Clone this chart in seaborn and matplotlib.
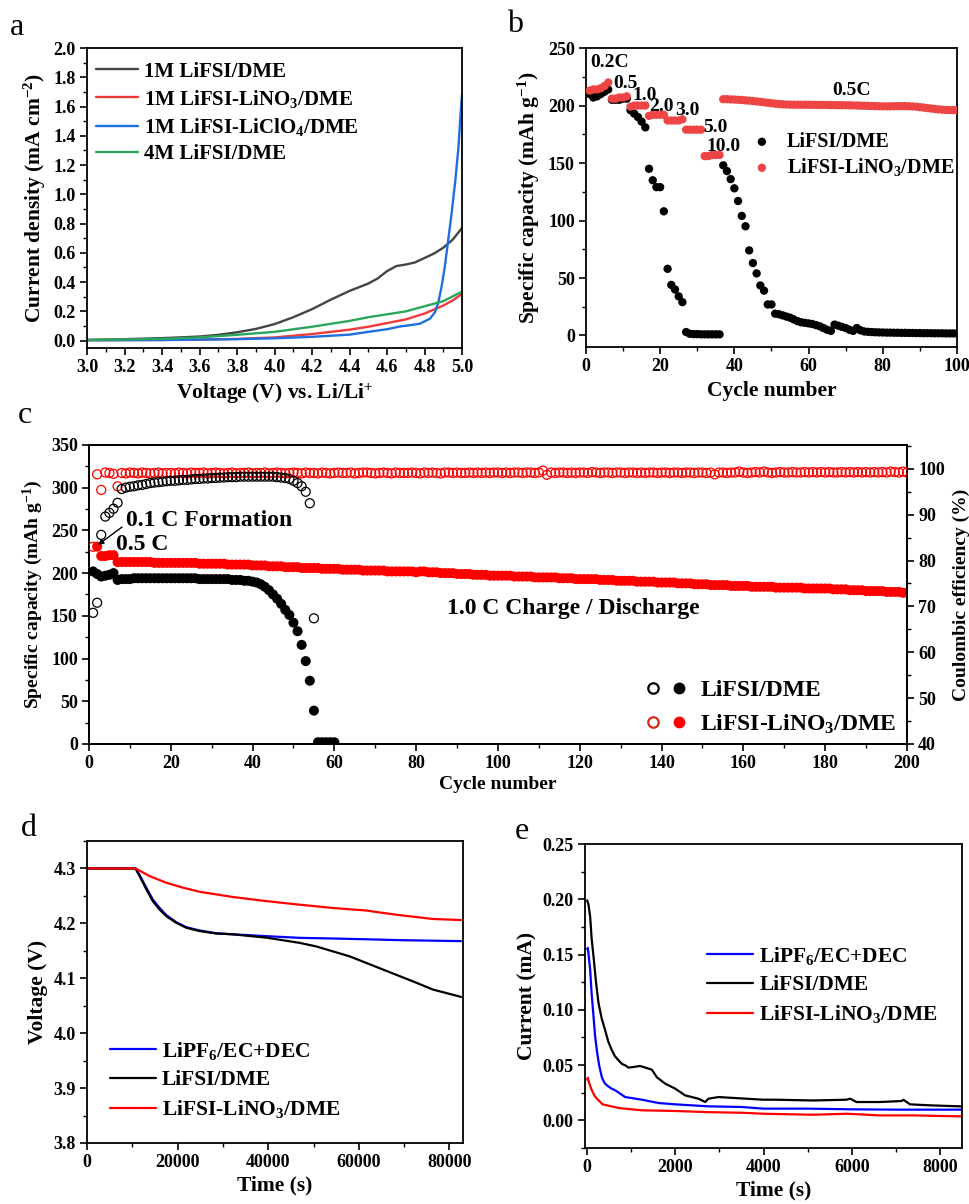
import numpy as np
import matplotlib
matplotlib.use("Agg")
import matplotlib.pyplot as plt
import seaborn as sns
from matplotlib.ticker import MultipleLocator
from matplotlib.legend_handler import HandlerTuple
from matplotlib.lines import Line2D

# ---------------------------------------------------------------- data
# (a) linear sweep voltammetry
v_lifsi = [3.0, 3.2, 3.4, 3.6, 3.7, 3.8, 3.9, 4.0, 4.1, 4.2, 4.3, 4.4, 4.5, 4.55,
           4.6, 4.65, 4.7, 4.75, 4.8, 4.85, 4.9, 4.95, 5.0]
j_lifsi = [0.005, 0.01, 0.017, 0.028, 0.04, 0.057, 0.08, 0.113, 0.16, 0.215, 0.28,
           0.34, 0.39, 0.425, 0.475, 0.51, 0.52, 0.535, 0.565, 0.595, 0.635, 0.69, 0.77]
v_lino3 = [3.0, 3.4, 3.6, 3.8, 4.0, 4.2, 4.4, 4.5, 4.6, 4.7, 4.8, 4.9, 4.95, 5.0]
j_lino3 = [0.003, 0.005, 0.007, 0.012, 0.022, 0.045, 0.075, 0.095, 0.12, 0.145,
           0.185, 0.24, 0.275, 0.32]
v_clo4 = [3.0, 3.4, 3.8, 4.0, 4.2, 4.4, 4.5, 4.6, 4.67, 4.72, 4.776, 4.829, 4.856,
          4.874, 4.892, 4.909, 4.927, 4.945, 4.963, 4.98, 4.995, 5.0]
j_clo4 = [0.003, 0.004, 0.01, 0.016, 0.026, 0.041, 0.06, 0.078, 0.097, 0.105, 0.116,
          0.15, 0.195, 0.263, 0.376, 0.512, 0.694, 0.875, 1.08, 1.306, 1.6, 1.68]
v_4m = [3.0, 3.2, 3.4, 3.6, 3.8, 4.0, 4.2, 4.4, 4.5, 4.6, 4.7, 4.8, 4.9, 5.0]
j_4m = [0.005, 0.008, 0.012, 0.022, 0.04, 0.06, 0.095, 0.135, 0.16, 0.18, 0.2,
        0.235, 0.27, 0.335]

# (b) rate capability
cyc_b = list(range(1, 101))
cap_b_lifsi = [210, 207, 208, 210, 212, 214,
               205, 205, 205, 206, 206,
               196, 193, 190, 186, 181,
               145, 135, 129, 129, 108, 58, 44, 40, 34, 29, 3,
               1.5, 1.2, 1.2, 1.0, 1.0, 1.0, 1.0, 1.0, 1.0,
               148, 143, 136, 128, 117, 104, 95, 74, 63, 54, 43.5, 39, 27, 27, 19,
               18.5, 17.5, 16.5, 15.5, 14, 12.5, 11.5, 11, 10.5, 10, 9, 8, 6.5, 5, 4,
               9.5, 8.5, 7.5, 6.5, 5, 4, 6.5, 4.5, 3.5, 3.2, 3.0, 2.8, 2.7, 2.6,
               2.5, 2.5, 2.4, 2.4, 2.3, 2.3, 2.2, 2.2, 2.1, 2.1, 2.0, 2.0, 2.0, 1.9,
               1.9, 1.9, 1.8, 1.8, 1.8, 1.8]
cap_b_lino3 = [213, 214, 214, 215, 217, 220,
               206, 206, 207, 207, 208,
               199, 200, 200, 200, 200,
               191, 192, 192, 192, 192,
               187, 187, 187, 187, 188,
               179, 179, 179, 179, 179,
               156, 156, 157, 157, 157,
               205.5, 205.5, 205.3, 205.2, 205.0, 204.8, 204.5, 204.2, 204.0, 203.6,
               203.2, 202.8, 202.4, 202.0, 201.6, 201.3, 201.1, 200.9, 200.8, 200.7,
               200.7, 200.7, 200.7, 200.7, 200.6, 200.6, 200.5, 200.5, 200.5, 200.4,
               200.4, 200.3, 200.3, 200.2, 200.2, 200.1, 200.0, 199.9, 199.8, 199.7,
               199.6, 199.5, 199.4, 199.3, 199.3, 199.3, 199.4, 199.5, 199.5, 199.5,
               199.4, 199.2, 199.0, 198.6, 198.2, 197.8, 197.4, 197.0, 196.6, 196.4,
               196.2, 196.1, 196.0, 195.9]
rate_labels = ["0.2C", "0.5", "1.0", "2.0", "3.0", "5.0", "10.0", "0.5C"]
rate_label_x = [1.1, 7.3, 12.4, 17.0, 24.0, 31.5, 32.6, 66.3]
rate_label_y = [237, 219, 209, 199, 196, 181, 164, 213]

# (c) long-term cycling: capacity (left axis) and coulombic efficiency (right axis)
cyc_c_lifsi = list(range(1, 61))
cap_c_lifsi = [202, 199, 196, 197, 198, 200,
               192, 193, 193, 193,
               194, 194, 194, 194, 194, 194, 194, 194, 194, 194,
               194, 194, 194, 194, 194, 194, 193, 193, 193, 193,
               193, 193, 193, 193, 192, 192, 192, 191, 191,
               190, 189, 187, 184, 180, 175, 170, 164, 157, 151, 142, 132, 116, 97, 74, 39,
               2, 2, 2, 2, 2]
ce_cyc_lifsi = list(range(1, 56))
ce_c_lifsi = [68.6, 70.8, 85.6, 89.6, 90.4, 91.3, 92.6, 95.6, 95.9, 96.1,
              96.2, 96.4, 96.5, 96.7, 96.9, 97.0, 97.1, 97.2, 97.3, 97.4,
              97.4, 97.5, 97.6, 97.6, 97.7, 97.8, 97.8, 97.9, 97.9, 98.0,
              98.0, 98.1, 98.1, 98.2, 98.2, 98.2, 98.3, 98.3, 98.3, 98.3,
              98.3, 98.3, 98.3, 98.3, 98.3, 98.2, 98.1, 98.0, 97.8, 97.4,
              96.9, 96.2, 95.0, 92.5, 67.4]
cyc_c_lino3 = list(range(2, 201))
cap_c_lino3 = [231,
               220, 220, 221, 221,
               213, 213, 213, 213,
               213, 213, 213, 213, 213, 212, 212, 212, 212, 212,
               212, 212, 212, 212, 212, 212, 211, 211, 211, 211,
               211, 211, 211, 210, 210, 210, 210, 210, 210, 209,
               209, 209, 209, 208, 208, 208, 208, 207, 207, 207,
               207, 206, 206, 206, 206, 206, 205, 205, 205, 205,
               205, 204, 204, 204, 204, 204, 203, 203, 203, 203,
               203, 203, 202, 202, 202, 202, 202, 202, 202, 201,
               202, 202, 201, 201, 201, 200, 200, 200, 200, 199,
               199, 199, 199, 198, 198, 198, 198, 197, 197, 197,
               197, 197, 197, 196, 196, 196, 196, 196, 195, 195,
               195, 195, 195, 195, 194, 194, 194, 194, 193, 193,
               193, 193, 193, 193, 192, 192, 192, 192, 191, 191,
               191, 191, 191, 190, 190, 190, 190, 190, 189, 189,
               189, 189, 189, 188, 188, 188, 188, 187, 187, 187,
               187, 186, 186, 186, 186, 186, 185, 185, 185, 185,
               185, 184, 184, 184, 184, 184, 184, 183, 183, 183,
               183, 183, 183, 183, 182, 182, 182, 182, 182, 182,
               182, 181, 181, 181, 181, 180, 180, 180, 180, 179,
               179, 179, 179, 179, 178, 178, 178, 178, 177, 177]
ce_cyc_lino3 = list(range(1, 201))
ce_c_lino3 = [83.0, 98.8, 95.4, 99.2, 99.1, 98.9, 96.2,
              99.1, 99.0, 99.2, 99.1, 99.0, 99.2, 99.1, 99.0, 99.1, 99.2,
              99.0, 99.1, 99.1, 99.0, 99.2, 99.1, 99.0, 99.2, 99.1, 99.1,
              99.2, 99.0, 99.1, 99.2, 99.1, 99.0, 99.1, 99.2, 99.0, 99.1,
              99.1, 99.2, 99.0, 99.1, 99.1, 99.2, 99.0, 99.1, 99.2, 99.1,
              99.0, 99.1, 99.2, 99.1, 99.0, 99.2, 99.1, 99.1, 99.0, 99.2,
              99.1, 99.0, 99.1, 99.2, 99.1, 99.1, 99.2, 99.0, 99.1, 99.2,
              99.2, 99.1, 99.0, 99.1, 99.2, 99.1, 99.0, 99.2, 99.1, 99.1,
              99.1, 99.2, 99.1, 99.0, 99.2, 99.1, 99.2, 99.1, 99.0, 99.2,
              99.2, 99.1, 99.2, 99.1, 99.1, 99.2, 99.1, 99.2, 99.1, 99.2,
              99.1, 99.2, 99.2, 99.1, 99.2, 99.1, 99.2, 99.2, 99.1, 99.2,
              99.2, 99.1, 99.2, 99.6, 98.7, 99.2, 99.1, 99.2, 99.2, 99.1,
              99.2, 99.1, 99.2, 99.2, 99.1, 99.3, 99.2, 99.1, 99.2, 99.2,
              99.1, 99.2, 99.2, 99.1, 99.2, 99.2, 99.1, 99.2, 99.1, 99.2,
              99.2, 99.1, 99.2, 99.2, 99.1, 99.2, 99.2, 99.1, 99.2, 99.2,
              99.1, 99.2, 99.2, 99.1, 99.2, 98.8, 99.2, 99.2, 99.1, 99.2,
              99.2, 99.4, 99.2, 99.1, 99.2, 99.3, 99.2, 99.4, 99.2, 99.1,
              99.2, 99.3, 99.2, 99.2, 99.3, 99.2, 99.2, 99.3, 99.2, 99.3,
              99.2, 99.3, 99.2, 99.3, 99.2, 99.2, 99.3, 99.2, 99.3, 99.2,
              99.3, 99.2, 99.3, 99.2, 99.3, 99.2, 99.3, 99.2, 99.4, 99.3,
              99.2, 99.4, 99.2]

# (d) voltage hold / self-discharge
t_d_pf6 = [0, 10700, 11617, 13088, 14559, 16029, 17500, 19706, 21912, 24853, 28529,
           32206, 39559, 46912, 54265, 61618, 68971, 82574]
v_d_pf6 = [4.3, 4.3, 4.288, 4.265, 4.243, 4.228, 4.215, 4.202, 4.193, 4.187, 4.182,
           4.18, 4.1767, 4.1736, 4.1724, 4.171, 4.1694, 4.1676]
t_d_lifsi = [0, 10700, 11617, 13088, 14559, 16029, 17500, 19706, 21912, 24853, 28529,
             32206, 39559, 46912, 50588, 54265, 57941, 61618, 65294, 68971, 72647,
             76324, 82574]
v_d_lifsi = [4.3, 4.3, 4.286, 4.262, 4.240, 4.225, 4.213, 4.201, 4.192, 4.186, 4.1815,
             4.18, 4.174, 4.1645, 4.158, 4.149, 4.14, 4.128, 4.116, 4.104, 4.092,
             4.0795, 4.066]
t_d_lino3 = [0, 10700, 13824, 17500, 21176, 24853, 32206, 39559, 46912, 54265, 61618,
             65294, 68971, 76324, 82574]
v_d_lino3 = [4.3, 4.3, 4.286, 4.274, 4.265, 4.2575, 4.248, 4.2405, 4.234, 4.228,
             4.2234, 4.219, 4.215, 4.208, 4.206]

# (e) chronoamperometry
t_e_pf6 = [0, 15, 68, 100, 144, 180, 219, 270, 333, 390, 446, 540, 635, 862, 1240,
           1618, 1995, 2751, 3507, 4000, 5000, 6000, 7000, 8000, 8500]
i_e_pf6 = [0.155, 0.156, 0.136, 0.115, 0.0936, 0.076, 0.0634, 0.05, 0.039, 0.034,
           0.0317, 0.029, 0.0272, 0.0211, 0.0187, 0.0157, 0.0145, 0.0127, 0.0121,
           0.0106, 0.0106, 0.0100, 0.0097, 0.0097, 0.0097]
t_e_lifsi = [0, 30, 68, 100, 144, 200, 257, 330, 408, 480, 560, 630, 711, 790, 862,
             937, 1050, 1200, 1466, 1580, 1769, 1995, 2222, 2524, 2676, 2750, 2978,
             3356, 3992, 4263, 5127, 5883, 5960, 6110, 6639, 7130, 7170, 7320, 7773,
             8454, 8500]
i_e_lifsi = [0.199, 0.195, 0.184, 0.165, 0.148, 0.125, 0.106, 0.092, 0.0815, 0.071,
             0.0634, 0.058, 0.0543, 0.051, 0.0498, 0.0477, 0.0483, 0.0492, 0.0459,
             0.039, 0.0332, 0.0287, 0.0226, 0.0196, 0.0166, 0.0196, 0.0211, 0.0202,
             0.0187, 0.0187, 0.018, 0.0187, 0.0196, 0.0166, 0.0166, 0.0175, 0.0187,
             0.0145, 0.0136, 0.0127, 0.0125]
t_e_lino3 = [0, 15, 50, 106, 170, 257, 350, 446, 711, 1240, 1995, 2700, 3507, 3992,
             5127, 5883, 6640, 7395, 8000, 8500]
i_e_lino3 = [0.037, 0.0386, 0.033, 0.0272, 0.022, 0.0181, 0.0145, 0.0136, 0.0112,
             0.0091, 0.0085, 0.0075, 0.0069, 0.006, 0.0051, 0.006, 0.0045, 0.0045,
             0.004, 0.0036]

# ---------------------------------------------------------------- style
sns.set_theme(style="ticks")
plt.rcParams.update({
    "font.family": ["Liberation Serif", "DejaVu Serif"],
    "font.weight": "bold",
    "axes.labelweight": "bold",
    "mathtext.fontset": "custom",
    "mathtext.rm": "Liberation Serif:bold",
    "mathtext.it": "Liberation Serif:bold:italic",
    "mathtext.bf": "Liberation Serif:bold",
    "axes.edgecolor": "black",
    "axes.labelcolor": "black",
    "text.color": "black",
    "xtick.color": "black",
    "ytick.color": "black",
    "axes.linewidth": 1.3,
    "xtick.direction": "out",
    "ytick.direction": "out",
    "xtick.major.size": 5, "ytick.major.size": 5,
    "xtick.minor.size": 3, "ytick.minor.size": 3,
    "xtick.major.width": 1.2, "ytick.major.width": 1.2,
    "xtick.minor.width": 1.0, "ytick.minor.width": 1.0,
    "xtick.major.pad": 3, "ytick.major.pad": 3,
})

TICK = 13
LAB = 15.5


def frame(ax, xmaj, xmin, ymaj, ymin):
    ax.xaxis.set_major_locator(MultipleLocator(xmaj))
    ax.xaxis.set_minor_locator(MultipleLocator(xmin))
    ax.yaxis.set_major_locator(MultipleLocator(ymaj))
    ax.yaxis.set_minor_locator(MultipleLocator(ymin))
    ax.tick_params(which="both", top=False, right=False, labelsize=TICK)
    for s in ax.spines.values():
        s.set_visible(True)
        s.set_linewidth(1.3)
        s.set_color("black")


fig = plt.figure(figsize=(9.69, 12.04), dpi=100)

# ---------------------------------------------------------------- (a)
ax_a = fig.add_axes([0.0898, 0.7110, 0.3870, 0.2491])
sns.lineplot(x=v_lifsi, y=j_lifsi, ax=ax_a, color="#454545", lw=1.7,
             label="1M LiFSI/DME", sort=False, estimator=None)
sns.lineplot(x=v_lino3, y=j_lino3, ax=ax_a, color="#f03a3a", lw=1.7,
             label="1M LiFSI-LiNO$_3$/DME", sort=False, estimator=None)
sns.lineplot(x=v_clo4, y=j_clo4, ax=ax_a, color="#1f6fe0", lw=1.7,
             label="1M LiFSI-LiClO$_4$/DME", sort=False, estimator=None)
sns.lineplot(x=v_4m, y=j_4m, ax=ax_a, color="#2aa55e", lw=1.7,
             label="4M LiFSI/DME", sort=False, estimator=None)
ax_a.set_xlim(3.0, 5.0)
ax_a.set_ylim(-0.05, 2.0)
frame(ax_a, 0.2, 0.1, 0.2, 0.1)
ax_a.xaxis.set_major_formatter(matplotlib.ticker.FormatStrFormatter("%.1f"))
ax_a.yaxis.set_major_formatter(matplotlib.ticker.FormatStrFormatter("%.1f"))
ax_a.set_xlabel("Voltage (V) vs. Li/Li$^{+}$", fontsize=LAB, labelpad=4)
ax_a.set_ylabel("Current density (mA cm$^{-2}$)", fontsize=LAB, labelpad=4)
ax_a.legend(loc="upper left", bbox_to_anchor=(0.025, 0.955), frameon=False,
            fontsize=15, handlelength=2.0, handletextpad=0.3, labelspacing=0.3,
            borderpad=0, borderaxespad=0)

# ---------------------------------------------------------------- (b)
ax_b = fig.add_axes([0.6047, 0.7118, 0.3829, 0.2483])
sns.scatterplot(x=cyc_b, y=cap_b_lifsi, ax=ax_b, color="black", s=36,
                edgecolor="none", label="LiFSI/DME", zorder=3)
sns.scatterplot(x=cyc_b, y=cap_b_lino3, ax=ax_b, color="#ef4444", s=36,
                edgecolor="none", label="LiFSI-LiNO$_3$/DME", zorder=4)
for txt, tx, ty in zip(rate_labels, rate_label_x, rate_label_y):
    ax_b.text(tx, ty, txt, fontsize=14, ha="left", va="center", zorder=5)
ax_b.set_xlim(0, 100)
ax_b.set_ylim(-10, 250)
frame(ax_b, 20, 10, 50, 25)
ax_b.set_xlabel("Cycle number", fontsize=LAB, labelpad=4)
ax_b.set_ylabel("Specific capacity (mAh g$^{-1}$)", fontsize=LAB, labelpad=4)
ax_b.legend(loc="upper left", bbox_to_anchor=(0.447, 0.719), frameon=False,
            fontsize=14.5, handlelength=1.0, handletextpad=0.75, labelspacing=0.2,
            borderpad=0, borderaxespad=0, scatterpoints=1)

# ---------------------------------------------------------------- (c)
ax_c = fig.add_axes([0.0918, 0.3821, 0.8442, 0.2483])
ax_c2 = ax_c.twinx()
sns.scatterplot(x=cyc_c_lino3, y=cap_c_lino3, ax=ax_c, color="red", s=52,
                edgecolor="none", zorder=3)
sns.scatterplot(x=cyc_c_lifsi, y=cap_c_lifsi, ax=ax_c, color="black", s=52,
                edgecolor="none", zorder=4)
sns.scatterplot(x=ce_cyc_lino3, y=ce_c_lino3, ax=ax_c2, color="red", s=42,
                facecolor="none", edgecolor="red", linewidth=0.9, zorder=3)
sns.scatterplot(x=ce_cyc_lifsi, y=ce_c_lifsi, ax=ax_c2, color="black", s=42,
                facecolor="none", edgecolor="black", linewidth=0.9, zorder=4)
ax_c.set_xlim(0, 200)
ax_c.set_ylim(0, 350)
ax_c2.set_ylim(40, 105.2)
frame(ax_c, 20, 10, 50, 25)
ax_c2.yaxis.set_major_locator(MultipleLocator(10))
ax_c2.yaxis.set_minor_locator(MultipleLocator(5))
ax_c2.tick_params(which="both", right=True, left=False, top=False, labelsize=TICK)
ax_c.set_xlabel("Cycle number", fontsize=14, labelpad=3)
ax_c.set_ylabel("Specific capacity (mAh g$^{-1}$)", fontsize=14, labelpad=4)
ax_c2.set_ylabel("Coulombic efficiency (%)", fontsize=14, labelpad=6)
ax_c.annotate("", xy=(2.2, 233), xytext=(8.1, 254),
              arrowprops=dict(arrowstyle="-|>", color="black", lw=1.0,
                              mutation_scale=8, shrinkA=0, shrinkB=0))
ax_c.text(9.0, 262, "0.1 C Formation", fontsize=17, ha="left", va="center")
ax_c.text(6.6, 233, "0.5 C", fontsize=17, ha="left", va="center")
ax_c.text(87.5, 158, "1.0 C Charge / Discharge", fontsize=17, ha="left", va="center")
h_k = (Line2D([], [], ls="none", marker="o", ms=7.5, mfc="none", mec="black", mew=1.6),
       Line2D([], [], ls="none", marker="o", ms=7.5, mfc="black", mec="black"))
h_r = (Line2D([], [], ls="none", marker="o", ms=7.5, mfc="none", mec="#d42a10", mew=1.6),
       Line2D([], [], ls="none", marker="o", ms=7.5, mfc="red", mec="red"))
ax_c2.legend([h_k, h_r], ["LiFSI/DME", "LiFSI-LiNO$_3$/DME"],
             handler_map={tuple: HandlerTuple(ndivide=None, pad=0.4)},
             loc="lower left", bbox_to_anchor=(0.68, 0.027), frameon=False,
             fontsize=17, handlelength=1.8, handletextpad=0.53, labelspacing=0.5,
             borderpad=0, borderaxespad=0)

# ---------------------------------------------------------------- (d)
ax_d = fig.add_axes([0.0898, 0.0507, 0.3880, 0.2508])
sns.lineplot(x=t_d_pf6, y=v_d_pf6, ax=ax_d, color="#0000ff", lw=1.6,
             label="LiPF$_6$/EC+DEC", sort=False, estimator=None)
sns.lineplot(x=t_d_lifsi, y=v_d_lifsi, ax=ax_d, color="black", lw=1.6,
             label="LiFSI/DME", sort=False, estimator=None)
sns.lineplot(x=t_d_lino3, y=v_d_lino3, ax=ax_d, color="#ff0000", lw=1.6,
             label="LiFSI-LiNO$_3$/DME", sort=False, estimator=None)
ax_d.set_xlim(0, 83000)
ax_d.set_ylim(3.8, 4.35)
frame(ax_d, 20000, 10000, 0.1, 0.05)
ax_d.yaxis.set_major_formatter(matplotlib.ticker.FormatStrFormatter("%.1f"))
ax_d.set_xlabel("Time (s)", fontsize=LAB, labelpad=3)
ax_d.set_ylabel("Voltage (V)", fontsize=LAB, labelpad=4)
ax_d.legend(loc="lower left", bbox_to_anchor=(0.061, 0.075), frameon=False,
            fontsize=15.5, handlelength=2.14, handletextpad=0.28, labelspacing=0.38,
            borderpad=0, borderaxespad=0)

# ---------------------------------------------------------------- (e)
ax_e = fig.add_axes([0.6037, 0.0465, 0.3891, 0.2525])
sns.lineplot(x=t_e_pf6, y=i_e_pf6, ax=ax_e, color="#0000ff", lw=1.6,
             label="LiPF$_6$/EC+DEC", sort=False, estimator=None)
sns.lineplot(x=t_e_lifsi, y=i_e_lifsi, ax=ax_e, color="black", lw=1.6,
             label="LiFSI/DME", sort=False, estimator=None)
sns.lineplot(x=t_e_lino3, y=i_e_lino3, ax=ax_e, color="#ff0000", lw=1.6,
             label="LiFSI-LiNO$_3$/DME", sort=False, estimator=None)
ax_e.set_xlim(-50, 8500)
ax_e.set_ylim(-0.025, 0.25)
frame(ax_e, 2000, 1000, 0.05, 0.025)
ax_e.yaxis.set_major_formatter(matplotlib.ticker.FormatStrFormatter("%.2f"))
ax_e.set_xlabel("Time (s)", fontsize=LAB, labelpad=3)
ax_e.set_ylabel("Current (mA)", fontsize=LAB, labelpad=4)
ax_e.legend(loc="upper left", bbox_to_anchor=(0.324, 0.668), frameon=False,
            fontsize=15.5, handlelength=2.14, handletextpad=0.28, labelspacing=0.38,
            borderpad=0, borderaxespad=0)

# ---------------------------------------------------------------- panel letters
for letter, fx, fy in [("a", 0.0175, 0.977), ("b", 0.531, 0.980), ("c", 0.0258, 0.6545),
                       ("d", 0.030, 0.312), ("e", 0.539, 0.309)]:
    fig.text(fx, fy, letter, fontsize=23, fontweight="normal", ha="center", va="center")

fig.savefig("out.png", dpi=100)
